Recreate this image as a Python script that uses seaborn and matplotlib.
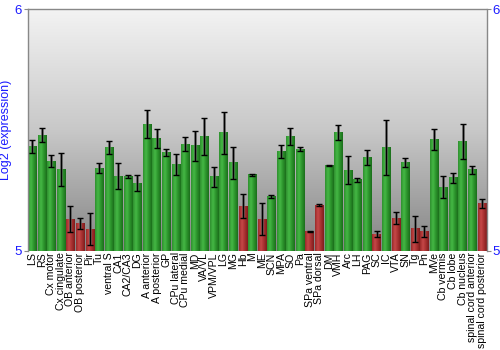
import numpy as np
import pandas as pd
import matplotlib
matplotlib.use("Agg")
import matplotlib.pyplot as plt
from matplotlib.colors import LinearSegmentedColormap
import seaborn as sns

regions = ["LS", "RS", "Cx motor", "Cx cingulate", "OB anterior", "OB posterior", "Pir",
           "Tu", "ventral S", "CA1", "CA2/CA3", "DG", "A anterior", "A posterior", "GP",
           "CPu lateral", "CPu medial", "MD", "VA/VL", "VPM/VPL", "LG", "MG", "Hb", "M",
           "ME", "SCN", "MPA", "SO", "Pa", "SPa ventral", "SPa dorsal", "DM", "VMH", "Arc",
           "LH", "PAG", "SC", "IC", "VTA", "SN", "Tg", "Pn", "MVe", "Cb vermis", "Cb lobe",
           "Cb nucleus", "spinal cord anterior", "spinal cord posterior"]
expression = [5.431, 5.479, 5.372, 5.335, 5.132, 5.114, 5.090, 5.343, 5.427, 5.310,
              5.307, 5.281, 5.523, 5.464, 5.408, 5.357, 5.442, 5.435, 5.474, 5.306,
              5.489, 5.364, 5.186, 5.315, 5.132, 5.224, 5.412, 5.475, 5.421, 5.080,
              5.190, 5.353, 5.489, 5.333, 5.295, 5.388, 5.070, 5.428, 5.135, 5.366,
              5.091, 5.081, 5.461, 5.264, 5.302, 5.452, 5.336, 5.196]
error = [0.028, 0.030, 0.023, 0.068, 0.054, 0.023, 0.066, 0.022, 0.027, 0.053,
         0.006, 0.032, 0.058, 0.039, 0.014, 0.045, 0.028, 0.062, 0.076, 0.043,
         0.087, 0.065, 0.048, 0.004, 0.065, 0.007, 0.028, 0.035, 0.008, 0.002,
         0.003, 0.002, 0.030, 0.058, 0.008, 0.031, 0.014, 0.113, 0.025, 0.018,
         0.055, 0.023, 0.045, 0.044, 0.022, 0.072, 0.017, 0.017]
threshold = 5.2
y_min, y_max = 5, 6

df = pd.DataFrame({"region": regions, "expression": expression, "error": error})
df["level"] = np.where(df["expression"] < threshold, "low", "high")

fig = plt.figure(figsize=(5, 3.5), dpi=100)
ax = fig.add_axes([0.0555, 0.283, 0.9175, 0.691])

# vertical grey background gradient
bg = LinearSegmentedColormap.from_list("bg", ["#858585", "#c8c8c8", "#f3f3f3"])
ax.imshow(np.linspace(0, 1, 256).reshape(-1, 1), aspect="auto", cmap=bg, origin="lower",
          extent=[0, 1, 0, 1], transform=ax.transAxes, zorder=0)

sns.barplot(data=df, x="region", y="expression", hue="level",
            palette={"high": "#2e9a2e", "low": "#a83232"}, dodge=False,
            legend=False, width=0.86, ax=ax, zorder=2, linewidth=0)

# cylinder-like horizontal shading inside each bar
green = LinearSegmentedColormap.from_list("g", ["#2f8f2f", "#45b845", "#2c932c", "#1b6e1b"])
red = LinearSegmentedColormap.from_list("r", ["#9a2a2a", "#c64848", "#a63030", "#7e1c1c"])
grad = np.linspace(0, 1, 64).reshape(1, -1)
for patch in ax.patches:
    x0, w = patch.get_x(), patch.get_width()
    h = patch.get_height()
    idx = int(round(x0 + w / 2))
    cm = red if df["level"].iloc[idx] == "low" else green
    ax.imshow(grad, aspect="auto", cmap=cm, extent=[x0, x0 + w, y_min, h], zorder=2.5)

xs = np.sort([p.get_x() + p.get_width() / 2 for p in ax.patches])
ax.errorbar(xs, df["expression"], yerr=df["error"], fmt="none", ecolor="#555555",
            elinewidth=2.0, capsize=0, zorder=3, alpha=0.8)
ax.errorbar(xs, df["expression"], yerr=df["error"], fmt="none", ecolor="black",
            elinewidth=0.8, capsize=2.2, capthick=1.0, zorder=3.5)

ax.set_xlim(-0.47, len(regions) - 0.5)
ax.set_ylim(y_min, y_max)
ax.set_yticks([y_min, y_max])
ax.set_xlabel("")
ax.set_ylabel("Log2 (expression)", color="#1a1aff", fontsize=9,
              family="Liberation Sans", labelpad=2)
ax.tick_params(axis="y", colors="#888888", labelcolor="#1a1aff", labelsize=9.5,
               length=3, width=0.8, left=True, right=True, labelright=True, pad=1)
for t in ax.get_yticklabels():
    t.set_family("Liberation Sans")
ax.tick_params(axis="x", length=0, pad=1)
ax.set_xticks(range(len(regions)))
ax.set_xticklabels(regions, rotation=90, fontsize=7.6, family="Liberation Sans")
for s in ["left", "right", "top"]:
    ax.spines[s].set_color("#888888")
    ax.spines[s].set_linewidth(1.0)
ax.spines["bottom"].set_visible(False)
ax.set_facecolor("none")

fig.savefig("out.png", dpi=100)
